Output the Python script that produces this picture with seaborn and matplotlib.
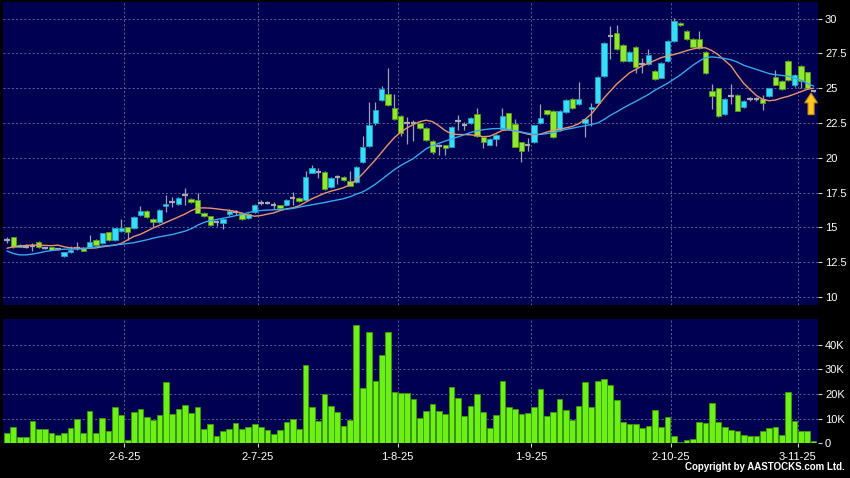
import numpy as np
import pandas as pd
import matplotlib
matplotlib.use("Agg")
import matplotlib.pyplot as plt
import seaborn as sns
from matplotlib.patches import FancyArrow

# ---------------- data ----------------
holidays = ["2025-07-01", "2025-10-01", "2025-10-07", "2025-10-29"]
dates = pd.bdate_range("2025-05-06", "2025-11-05", freq="C", holidays=holidays)

open_ = [14.1, 14.28, 13.62, 13.62, 13.68, 13.92, 13.54, 13.56, 13.44, 12.96,
         13.2, 13.49, 13.54, 13.56, 14.09, 13.87, 14.64, 14.11, 14.74, 15.0,
         14.93, 15.91, 16.15, 15.6, 15.35, 16.55, 16.82, 16.65, 17.3, 17.04,
         16.99, 16.04, 15.8, 15.35, 15.3, 15.94, 16.1, 16.04, 15.7, 16.09,
         16.77, 16.77, 16.57, 16.57, 16.57, 17.1, 17.14, 16.98, 18.93, 19.0,
         19.0, 17.93, 18.64, 18.64, 18.33, 18.24, 19.67, 20.86, 22.5, 24.12,
         24.55, 23.57, 23.0, 22.52, 22.52, 22.5, 22.14, 21.21, 20.86, 20.9,
         20.79, 22.62, 22.33, 22.52, 23.14, 21.48, 20.95, 21.38, 22.1, 23.2,
         22.43, 21.1, 20.9, 21.1, 22.52, 23.4, 23.33, 21.98, 23.3, 24.21,
         23.85, 22.49, 23.5, 23.97, 25.89, 28.76, 29.0, 28.09, 26.96, 27.99,
         26.72, 26.72, 26.24, 25.77, 26.96, 28.4, 29.71, 29.11, 28.52, 28.56,
         27.6, 24.83, 25.0, 23.15, 24.47, 24.52, 23.63, 24.23, 24.23, 24.22,
         24.46, 25.8, 25.54, 26.93, 25.2, 26.62, 26.14, 24.8]

close = [14.1, 13.56, 13.75, 13.62, 13.68, 13.59, 13.54, 13.4, 13.44, 13.2,
         13.39, 13.49, 13.32, 13.92, 13.7, 14.57, 14.11, 14.92, 14.98, 14.69,
         15.74, 16.15, 15.72, 15.35, 16.26, 16.65, 16.82, 17.1, 17.3, 16.82,
         16.04, 15.8, 15.16, 15.35, 15.6, 16.2, 16.1, 15.6, 15.96, 16.62,
         16.77, 16.77, 16.57, 16.4, 17.0, 17.1, 16.9, 18.64, 19.29, 19.0,
         17.76, 18.52, 18.64, 18.4, 18.0, 19.36, 20.79, 22.33, 23.45, 24.95,
         23.76, 22.76, 21.81, 22.52, 22.52, 22.14, 21.26, 20.43, 20.86, 20.67,
         22.21, 22.62, 22.33, 22.86, 21.57, 21.1, 21.38, 21.67, 23.0, 22.05,
         20.79, 20.48, 20.9, 22.33, 22.86, 23.17, 21.5, 23.33, 24.16, 23.56,
         24.21, 22.78, 23.66, 25.81, 28.28, 28.76, 27.8, 26.96, 27.61, 26.55,
         26.72, 27.37, 25.65, 26.84, 28.4, 29.83, 29.52, 28.52, 27.99, 27.92,
         26.08, 24.42, 22.98, 24.23, 24.47, 23.39, 24.11, 24.23, 24.23, 23.94,
         25.01, 25.25, 24.96, 25.56, 25.97, 25.54, 25.01, 24.8]

high = [14.33, 14.32, 13.8, 13.8, 13.87, 14.0, 13.62, 13.62, 13.55, 13.25,
        13.63, 13.97, 13.6, 14.47, 14.15, 14.62, 14.7, 14.98, 15.6, 15.05,
        15.8, 16.5, 16.22, 15.65, 16.35, 17.35, 17.2, 17.15, 17.8, 17.1,
        17.5, 16.1, 15.85, 15.5, 15.65, 16.3, 16.28, 16.1, 16.0, 16.7,
        16.95, 16.9, 16.8, 16.62, 17.05, 17.57, 17.2, 19.05, 19.48, 19.29,
        19.05, 18.6, 18.76, 18.7, 19.05, 19.4, 21.57, 24.0, 24.0, 25.19,
        26.43, 24.6, 23.05, 22.93, 22.7, 22.6, 22.2, 21.25, 21.0, 20.95,
        22.25, 23.05, 22.57, 22.9, 23.57, 21.52, 21.45, 21.7, 23.57, 23.25,
        22.76, 21.15, 21.43, 22.38, 23.88, 23.45, 23.4, 23.4, 24.2, 24.3,
        25.45, 22.85, 23.97, 25.9, 28.35, 29.47, 29.52, 28.15, 27.65, 28.05,
        27.2, 27.8, 26.3, 26.9, 28.45, 30.05, 29.78, 29.2, 28.6, 29.1,
        27.65, 25.3, 25.05, 24.3, 25.3, 24.6, 24.15, 24.4, 24.4, 24.5,
        25.05, 26.3, 25.6, 27.0, 26.0, 26.7, 26.2, 24.85]

low = [13.87, 13.5, 13.58, 13.5, 13.32, 13.55, 13.45, 13.35, 13.35, 12.84,
       13.15, 13.35, 13.28, 13.5, 13.65, 13.8, 14.05, 14.05, 14.7, 14.09,
       14.88, 15.85, 15.65, 15.06, 15.3, 16.1, 16.45, 16.6, 16.57, 16.78,
       16.0, 15.75, 15.1, 15.1, 14.9, 15.85, 15.9, 15.55, 15.6, 16.0,
       16.6, 16.65, 16.35, 16.35, 16.5, 16.62, 16.85, 16.95, 18.88, 18.52,
       17.7, 17.85, 18.1, 18.35, 17.95, 18.2, 19.6, 20.8, 22.33, 24.05,
       23.7, 22.7, 21.6, 21.02, 21.2, 22.05, 21.2, 20.3, 20.2, 20.19,
       20.75, 21.98, 21.98, 22.45, 21.5, 20.67, 20.9, 20.86, 22.05, 22.0,
       20.75, 19.7, 20.48, 21.05, 22.45, 23.1, 21.4, 21.9, 23.25, 23.5,
       23.8, 21.5, 22.3, 23.9, 25.8, 27.08, 27.75, 26.9, 26.9, 26.12,
       26.12, 26.65, 25.6, 25.7, 26.9, 28.35, 29.45, 28.45, 27.95, 27.85,
       26.0, 23.5, 22.9, 23.1, 23.87, 23.35, 23.6, 24.05, 24.1, 23.4,
       24.4, 25.2, 24.9, 25.5, 25.1, 25.0, 24.95, 24.75]

ma_short = [13.5, 13.6, 13.65, 13.7, 13.72, 13.72, 13.7, 13.68, 13.72, 13.6,
            13.52, 13.5, 13.49, 13.5, 13.52, 13.6, 13.66, 13.72, 13.85, 14.1,
            14.35, 14.5, 14.72, 14.95, 15.15, 15.35, 15.55, 15.75, 15.95, 16.2,
            16.38, 16.4, 16.38, 16.33, 16.27, 16.22, 16.14, 16.02, 15.88, 15.8,
            15.85, 15.95, 16.04, 16.2, 16.33, 16.4, 16.55, 16.8, 17.05, 17.25,
            17.45, 17.6, 17.72, 17.85, 18.05, 18.4, 18.85, 19.35, 19.85, 20.4,
            20.95, 21.45, 21.85, 22.15, 22.4, 22.6, 22.7, 22.6, 22.3, 21.95,
            21.72, 21.67, 21.67, 21.65, 21.6, 21.52, 21.55, 21.75, 21.97, 22.0,
            21.92, 21.82, 21.7, 21.62, 21.7, 21.85, 21.98, 22.05, 22.15, 22.25,
            22.45, 22.75, 23.15, 23.7, 24.3, 24.8, 25.3, 25.7, 26.1, 26.35,
            26.6, 26.8, 27.0, 27.2, 27.32, 27.42, 27.55, 27.7, 27.82, 27.92,
            27.9, 27.7, 27.4, 27.0, 26.6, 25.95, 25.35, 24.9, 24.47, 24.2,
            24.1, 24.15, 24.3, 24.42, 24.58, 24.75, 24.92, 25.0]

ma_long = [13.3, 13.12, 13.02, 13.02, 13.08, 13.16, 13.26, 13.33, 13.38, 13.43,
           13.44, 13.44, 13.45, 13.52, 13.6, 13.65, 13.69, 13.73, 13.78, 13.84,
           13.9, 14.0, 14.1, 14.22, 14.32, 14.4, 14.48, 14.6, 14.72, 14.9,
           15.15, 15.35, 15.48, 15.56, 15.65, 15.74, 15.84, 15.94, 16.06, 16.17,
           16.21, 16.24, 16.26, 16.27, 16.3, 16.36, 16.45, 16.54, 16.62, 16.7,
           16.78, 16.88, 16.97, 17.06, 17.2, 17.38, 17.55, 17.8, 18.1, 18.45,
           18.8, 19.15, 19.45, 19.7, 19.95, 20.3, 20.65, 20.88, 21.04, 21.2,
           21.35, 21.5, 21.66, 21.82, 21.93, 22.02, 22.07, 22.1, 22.1, 22.02,
           21.94, 21.85, 21.76, 21.68, 21.68, 21.74, 21.81, 21.92, 22.05, 22.12,
           22.22, 22.3, 22.4, 22.5, 22.75, 23.05, 23.3, 23.57, 23.82, 24.05,
           24.3, 24.55, 24.85, 25.1, 25.35, 25.65, 25.95, 26.3, 26.65, 26.95,
           27.2, 27.25, 27.2, 27.14, 27.04, 26.88, 26.65, 26.5, 26.35, 26.2,
           26.05, 25.97, 25.92, 25.86, 25.72, 25.58, 25.35, 25.15]

volume_k = [4.3, 6.6, 2.7, 2.6, 9.0, 5.7, 5.9, 4.3, 3.6, 4.2,
            6.2, 9.7, 4.2, 13.3, 4.2, 10.1, 5.1, 14.8, 11.7, 1.6,
            12.8, 14.0, 10.9, 9.4, 11.7, 24.9, 12.0, 14.0, 15.5, 12.3,
            14.8, 5.8, 8.0, 3.1, 5.1, 5.7, 8.1, 5.8, 6.7, 8.0,
            6.6, 5.4, 4.0, 5.3, 8.6, 9.8, 5.7, 31.7, 14.6, 9.0,
            19.8, 15.1, 12.7, 7.1, 9.6, 47.7, 22.5, 44.9, 25.3, 35.7,
            45.0, 20.8, 20.4, 20.4, 17.9, 10.4, 13.1, 15.8, 13.2, 11.9,
            22.8, 18.5, 11.3, 15.1, 20.1, 12.7, 6.1, 11.5, 25.1, 14.7,
            14.0, 12.1, 12.5, 14.7, 22.1, 11.1, 12.7, 17.8, 13.7, 9.4,
            15.2, 24.9, 14.6, 25.3, 26.0, 23.7, 17.5, 8.8, 7.8, 7.8,
            6.3, 7.0, 13.7, 6.7, 10.8, 3.1, 0.8, 1.3, 1.8, 8.6,
            8.2, 16.4, 8.5, 6.5, 5.4, 5.0, 3.6, 3.1, 3.1, 4.9,
            6.1, 6.6, 3.5, 20.9, 9.2, 4.9, 5.1, 0.9]

tick_dates = ["2025-06-02", "2025-07-02", "2025-08-01", "2025-09-01", "2025-10-02", "2025-11-03"]
tick_labels = ["2-6-25", "2-7-25", "1-8-25", "1-9-25", "2-10-25", "3-11-25"]
price_ticks = [10, 12.5, 15, 17.5, 20, 22.5, 25, 27.5, 30]
price_tick_labels = ["10", "12.5", "15", "17.5", "20", "22.5", "25", "27.5", "30"]
vol_ticks = [0, 10, 20, 30, 40]
vol_tick_labels = ["0", "10K", "20K", "30K", "40K"]
arrow_bar = 126.6
arrow_from, arrow_to = 23.1, 24.65

# ---------------- style ----------------
sns.set_style("dark")
plt.rcParams["font.family"] = ["Liberation Sans", "DejaVu Sans"]

NAVY = "#000050"
GRID = "#6c6c9c"
UP, UP_EDGE = "#36def8", "#1f9fc4"
DN, DN_EDGE = "#8fe832", "#5a9a18"
DOJI = "#a8a8b0"
WICK = "#a0a0b0"
VOL, VOL_EDGE = "#6cf016", "#3a9a08"

df = pd.DataFrame({"date": dates, "open": open_, "high": high, "low": low,
                   "close": close, "ma_short": ma_short, "ma_long": ma_long,
                   "volume": volume_k})
df["pos"] = np.arange(len(df))

fig = plt.figure(figsize=(8.5, 4.78), dpi=100, facecolor="black")
ax = fig.add_axes([0.0039, 0.362, 0.9585, 0.6339])
axv = fig.add_axes([0.0039, 0.0722, 0.9585, 0.2604])

for a in (ax, axv):
    a.set_facecolor(NAVY)
    for s in a.spines.values():
        s.set_visible(False)

# wicks
ax.vlines(df["pos"], df["low"], df["high"], color=WICK, lw=0.9, zorder=2)

body_w = 0.85
diff = df["close"] - df["open"]
up = df[diff > 0.005]
dn = df[diff < -0.005]
dj = df[diff.abs() <= 0.005]
ax.bar(up["pos"], up["close"] - up["open"], bottom=up["open"], width=body_w,
       color=UP, edgecolor=UP_EDGE, linewidth=0.6, zorder=3)
ax.bar(dn["pos"], dn["open"] - dn["close"], bottom=dn["close"], width=body_w,
       color=DN, edgecolor=DN_EDGE, linewidth=0.6, zorder=3)
ax.hlines(dj["close"], dj["pos"] - body_w / 2, dj["pos"] + body_w / 2,
          color=DOJI, lw=1.6, zorder=3)

# moving averages
sns.lineplot(data=df, x="pos", y="ma_short", ax=ax, color="#e8956a", lw=1.0, zorder=4)
sns.lineplot(data=df, x="pos", y="ma_long", ax=ax, color="#3aa6ee", lw=1.0, zorder=4)

# arrow
ax.add_patch(FancyArrow(arrow_bar, arrow_from, 0, arrow_to - arrow_from, width=0.95,
                        head_width=2.0, head_length=0.7, length_includes_head=True,
                        fc="#ffc824", ec="#c88a00", lw=0.8, zorder=6))

# volume
sns.barplot(data=df, x="pos", y="volume", native_scale=True, ax=axv, color=VOL,
            saturation=1, edgecolor=VOL_EDGE, linewidth=0.6, width=0.9,
            errorbar=None, zorder=3)

# axes, ticks, grid
xlim = (-0.58, 127.7)
tick_pos = [dates.get_loc(pd.Timestamp(d)) - 0.5 for d in tick_dates]
for a in (ax, axv):
    a.set_xlim(*xlim)
    a.set_xlabel("")
    a.set_ylabel("")
    a.grid(False)
    for t in tick_pos:
        a.axvline(t, color=GRID, lw=0.6, ls=(0, (2.5, 2.5)), zorder=1)
    a.yaxis.tick_right()
    a.tick_params(axis="y", which="both", colors="#d0d0d0", labelcolor="white",
                  length=3, width=0.8, pad=2, labelsize=8, right=True, left=False)

ax.set_ylim(9.42, 31.2)
ax.set_yticks(price_ticks)
ax.set_yticklabels(price_tick_labels)
for p in price_ticks:
    ax.axhline(p, color=GRID, lw=0.6, ls=(0, (2.5, 2.5)), zorder=1)
ax.set_xticks([])

axv.set_ylim(0, 50.3)
axv.set_yticks(vol_ticks)
axv.set_yticklabels(vol_tick_labels)
for v in vol_ticks[1:]:
    axv.axhline(v, color=GRID, lw=0.6, ls=(0, (2.5, 2.5)), zorder=1)
axv.set_xticks(tick_pos)
axv.set_xticklabels(tick_labels)
axv.tick_params(axis="x", colors="#d0d0d0", labelcolor="white", length=3,
                width=0.8, pad=3, labelsize=8, bottom=True)

fig.text(0.994, 0.012, "Copyright by AASTOCKS.com Ltd.", color="white",
         fontsize=7, fontweight="bold", ha="right", va="bottom")

fig.savefig("out.png", dpi=100, facecolor="black")
